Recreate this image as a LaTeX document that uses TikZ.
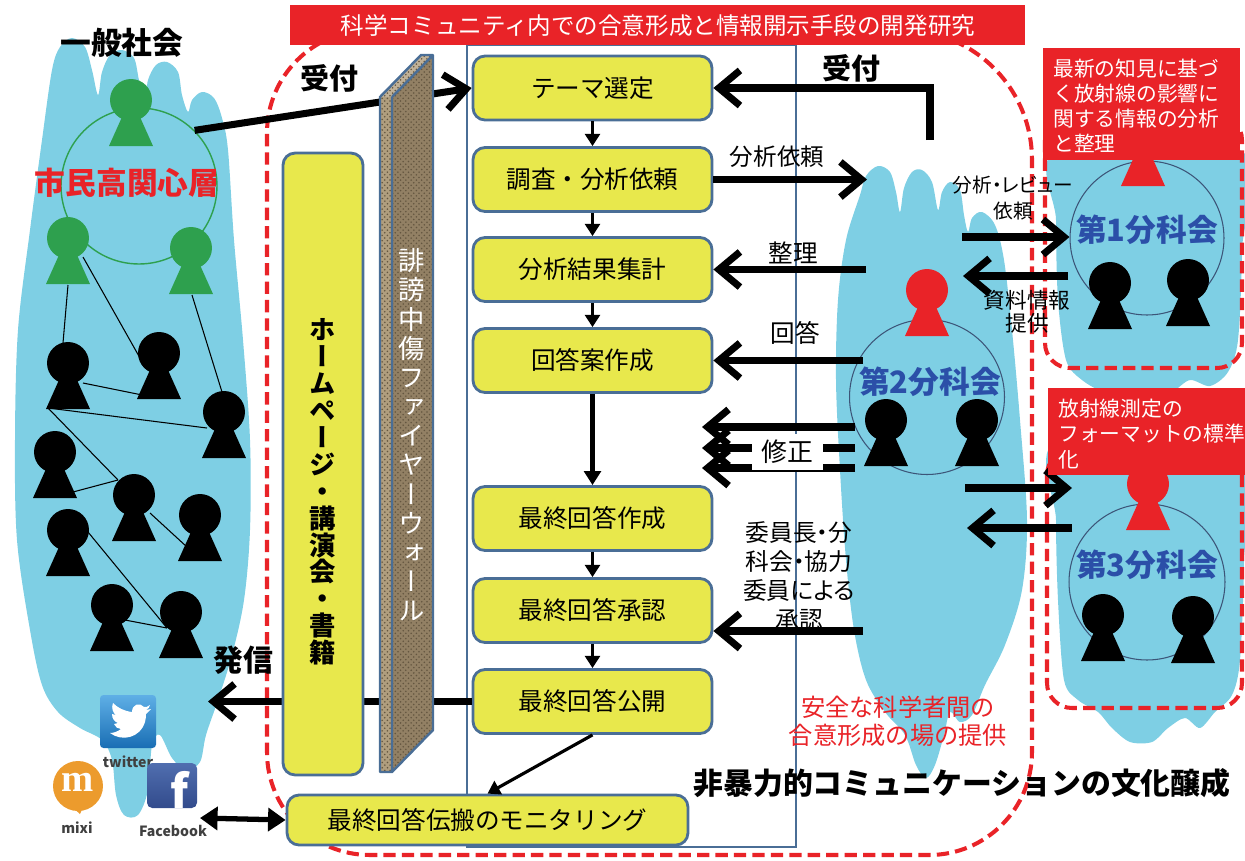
\documentclass[tikz,border=0pt]{standalone}
\usepackage{fontspec}
\setmainfont{Noto Sans CJK JP}
\newfontfamily\vjp[RawFeature=+vert]{Noto Sans CJK JP}
\newfontfamily\pjp[RawFeature=+palt]{Noto Sans CJK JP}
\newfontfamily\mixiserif{Liberation Serif}
\usepackage{xcolor}
\usepackage{tikz}
\usetikzlibrary{arrows.meta}
\usetikzlibrary{patterns}
\usetikzlibrary{calc}

\definecolor{cloudblue}{RGB}{126,207,228}
\definecolor{boxyellow}{RGB}{232,232,76}
\definecolor{edgeblue}{RGB}{74,110,150}
\definecolor{bannerred}{RGB}{233,35,40}
\definecolor{pgreen}{RGB}{46,160,78}
\definecolor{subblue}{RGB}{43,79,168}
\definecolor{wallbrown}{RGB}{146,128,100}
\definecolor{wallfront}{RGB}{176,158,126}
\definecolor{wallgrain}{RGB}{100,86,64}
\definecolor{ringline}{RGB}{60,85,120}
\definecolor{twtop}{RGB}{95,175,230}
\definecolor{twbot}{RGB}{25,110,180}
\definecolor{fbtop}{RGB}{80,110,175}
\definecolor{fbbot}{RGB}{50,75,140}
\definecolor{mixiorange}{RGB}{236,155,45}

\tikzset{
  flowbox/.style={draw=edgeblue,line width=1.6pt,fill=boxyellow,rounded corners=0.24cm,
    minimum width=4.78cm,minimum height=1.28cm,inner sep=0pt,font=\fontsize{14}{16}\selectfont},
  bigarrow/.style={line width=4pt,-{Straight Barb[length=12pt,width=20pt,line width=4pt]}},
  downarrow/.style={line width=1.8pt,-{Triangle[length=7pt,width=8.5pt]}},
  reddash/.style={draw=bannerred,line width=2.3pt,dash pattern=on 7pt off 3.5pt},
  ring/.style={circle,draw=ringline,line width=0.6pt,inner sep=0pt},
  lbl/.style={inner sep=1pt,font=\fontsize{13.4}{15}\selectfont},
  title/.style={inner sep=1pt,font=\bfseries\fontsize{17.5}{20}\selectfont},
  person/.pic={
    \fill (0,0) circle (0.42cm);
    \fill (-9,17) -- (9,17) -- (22,46) -- (-22,46) -- cycle;
  }
}

\begin{document}
\begin{tikzpicture}[x=0.02cm,y=-0.02cm]
\useasboundingbox (0,0) rectangle (1245,860);

\fill[cloudblue] plot[smooth cycle,tension=0.55] coordinates {(52,70) (60,47) (72,38) (85,47) (92,70) (98,95) (102,72) (110,55) (122,50) (134,58) (139,80) (145,100) (148,80) (156,65) (167,62) (178,72) (182,95) (188,112) (192,100) (202,92) (214,98) (222,118) (228,150) (234,240) (243,340) (250,440) (250,530) (244,600) (232,655) (218,700) (206,735) (200,762) (186,770) (172,758) (160,735) (152,745) (148,790) (138,815) (124,815) (116,795) (112,760) (102,740) (80,728) (58,712) (42,685) (30,630) (17,540) (15,440) (18,330) (30,230) (42,140)};
\fill[cloudblue] plot[smooth cycle,tension=0.55] coordinates {(860,195) (866,176) (878,166) (890,172) (896,192) (900,212) (904,188) (912,172) (922,170) (932,182) (938,210) (942,192) (950,182) (960,190) (964,215) (968,232) (972,218) (982,212) (995,225) (1004,260) (1012,330) (1020,420) (1027,520) (1022,590) (1005,645) (985,685) (972,715) (960,722) (950,712) (944,735) (935,765) (926,778) (916,765) (905,735) (885,712) (866,680) (854,630) (846,560) (840,470) (836,380) (838,300) (846,240)};
\fill[cloudblue] plot[smooth cycle,tension=0.5] coordinates {(1058,150) (1240,150) (1242,250) (1238,340) (1228,372) (1210,386) (1190,380) (1172,392) (1150,398) (1128,388) (1105,392) (1082,380) (1066,360) (1058,300) (1056,220)};
\fill[cloudblue] plot[smooth cycle,tension=0.5] coordinates {(1058,440) (1242,440) (1244,560) (1240,660) (1232,695) (1215,712) (1200,728) (1185,718) (1168,728) (1152,742) (1130,742) (1112,728) (1098,712) (1078,700) (1064,680) (1058,600) (1056,520)};

\draw[reddash] (650,30) [rounded corners=2.06cm] -- (267,30) -- (267,855) -- (1032,855) [rounded corners=2.6cm] -- (1032,30) [rounded corners=2.06cm] -- (650,30);
\draw[reddash,rounded corners=0.5cm] (1045,115) rectangle (1242,368);
\draw[reddash,rounded corners=0.5cm] (1047,450) rectangle (1242,708);
\draw[edgeblue,line width=1.3pt] (467,45) rectangle (796,847);

\foreach \n/\px/\py in {g1/131/100,g2/68/238,g3/191/248,k1/68/363,k2/159/353,k3/224/412,k4/55/452,k5/134/495,k6/200/515,k7/68/530,k8/112/605,k9/181/612}{
\coordinate (\n) at (\px,\py);
}
\draw[line width=0.6pt] ($(g2)+(0,47)$) -- ($(k1)+(-5,-20)$);
\draw[line width=0.6pt] ($(g2)+(15,19)$) -- ($(k2)+(-19,5)$);
\draw[line width=0.6pt] ($(g3)+(1,47)$) -- ($(k3)+(-2,-20)$);
\draw[line width=0.6pt] ($(k1)+(15,20)$) -- ($(k2)+(-2,45)$);
\draw[line width=0.6pt] ($(k1)+(-20,45)$) -- ($(k3)+(-17,16)$);
\draw[line width=0.6pt] ($(k1)+(-20,45)$) -- ($(k5)+(-16,-15)$);
\draw[line width=0.6pt] ($(k4)+(18,40)$) -- ($(k5)+(-16,-15)$);
\draw[line width=0.6pt] ($(k5)+(16,18)$) -- ($(k6)+(-13,32)$);
\draw[line width=0.6pt] ($(k7)+(20,2)$) -- ($(k9)+(-14,16)$);
\draw[line width=0.6pt] ($(k8)+(13,15)$) -- ($(k9)+(-14,16)$);

\node[circle,draw=pgreen,line width=0.8pt,minimum size=3.12cm,inner sep=0pt] (hicircle) at (139,186) {};
\node[ring,minimum size=3.1cm] (sub2) at (927,397) {};
\node[ring,minimum size=3.08cm] (sub1) at (1147,238) {};
\node[ring,minimum size=3.12cm] (sub3) at (1147,582) {};

\foreach \n in {g1,g2,g3}{
\pic[pgreen] at (\n) {person};
}
\foreach \n in {k1,k2,k3,k4,k5,k6,k7,k8,k9}{
\pic[black] at (\n) {person};
}
\pic[bannerred] at (927,290) {person};
\pic[bannerred] at (1143,140) {person};
\pic[bannerred] at (1148,484) {person};
\foreach \px/\py in {886/420,977/420,1110/283,1188/280,1103/615,1193/617}{
\pic[black] at (\px,\py) {person};
}

\pgfmathsetmacro{\X}{592.5}
\node[flowbox] (theme) at (\X,88) {テーマ選定};
\node[flowbox] (chosa) at (\X,179.5) {調査・分析依頼};
\node[flowbox] (kekka) at (\X,269.5) {分析結果集計};
\node[flowbox] (kaitoan) at (\X,360.5) {回答案作成};
\node[flowbox] (saishu) at (\X,518.5) {最終回答作成};
\node[flowbox] (shonin) at (\X,610.5) {最終回答承認};
\node[flowbox] (kokai) at (\X,701.5) {最終回答公開};
\node[flowbox,minimum width=8.02cm,minimum height=1cm] (monitor) at (487.5,820) {最終回答伝搬のモニタリング};

\coordinate (hassinT) at (208,701.5);
\draw[bigarrow] (kokai.west) -- (hassinT);
\draw[bigarrow] (hicircle.45) -- (theme.west);

\node[draw=edgeblue,line width=1.6pt,fill=boxyellow,rounded corners=0.24cm,minimum width=1.6cm,minimum height=12.44cm] (hpbox) at (323,464) {};
\node[align=center,inner sep=0pt,font=\vjp\bfseries\fontsize{15}{15.3}\selectfont] (hptext) at (323,492) {ホ\\ー\\ム\\ペ\\ー\\ジ\\・\\講\\演\\会\\・\\書\\籍};

\fill[wallfront] (380,97) rectangle (392,772);
\fill[wallbrown] (392,97) -- (433,55) -- (433,730) -- (392,772) -- cycle;
\fill[wallfront!80!white] (380,97) -- (421,55) -- (433,55) -- (392,97) -- cycle;
\path[pattern=crosshatch dots,pattern color=wallgrain] (380,97) -- (421,55) -- (433,55) -- (433,730) -- (392,772) -- (380,772) -- cycle;
\draw[edgeblue,line width=1.4pt,line join=round] (380,97) -- (421,55) -- (433,55) -- (433,730) -- (392,772) -- (380,772) -- cycle (392,97) -- (392,772) (392,97) -- (433,55);
\node[align=center,inner sep=0pt,text=white,font=\vjp\fontsize{15}{16.6}\selectfont] (fwtext) at (412,435) {誹\\謗\\中\\傷\\フ\\ァ\\イ\\ヤ\\ー\\ウ\\ォ\\ー\\ル};

\draw[downarrow] (theme) -- (chosa);
\draw[downarrow] (chosa) -- (kekka);
\draw[downarrow] (kekka) -- (kaitoan);
\draw[line width=2.3pt,-{Triangle[length=8pt,width=9.5pt]}] (kaitoan) -- (saishu);
\draw[downarrow] (saishu) -- (shonin);
\draw[downarrow] (shonin) -- (kokai);
\draw[downarrow] (kokai.south) -- (monitor.north);

\coordinate (uke) at (930,140);
\coordinate (bunT) at (867,179.5);
\coordinate (seiS) at (866,269.5);
\coordinate (kaiS) at (863,360.5);
\coordinate (shoS) at (863,631);
\draw[bigarrow] (uke) |- (theme.east);
\draw[bigarrow] (chosa.east) -- (bunT);
\draw[bigarrow] (seiS) -- (kekka.east);
\draw[bigarrow] (kaiS) -- (kaitoan.east);
\draw[bigarrow] (shoS) -- (shoS -| shonin.east);
\foreach \i/\yy in {1/427,2/448,3/468}{
\coordinate (shuS\i) at (855,\yy);
\coordinate (shuT\i) at (702,\yy);
\draw[bigarrow] (shuS\i) -- (shuT\i);
}
\node[fill=white,minimum width=1.42cm,minimum height=0.72cm,inner sep=0pt,font=\fontsize{14.7}{16}\selectfont] (shusei) at (787.5,452) {修正};

\coordinate (r1S) at (962,237);
\coordinate (l1S) at (1068,276);
\coordinate (l1T) at (963,276);
\coordinate (r3S) at (965,488);
\coordinate (r3T) at (1072,488);
\coordinate (l3S) at (1072,528);
\coordinate (l3T) at (967,528);
\draw[bigarrow] (r1S) -- (r1S -| sub1.west);
\draw[bigarrow] (l1S) -- (l1T);
\draw[bigarrow] (r3S) -- (r3T);
\draw[bigarrow] (l3S) -- (l3T);

\node[title] (society) at (122,43) {一般社会};
\node[title,text=bannerred] (concern) at (127,183) {市民高関心層};
\node[title,font=\bfseries\fontsize{16.5}{19}\selectfont] (ukeL) at (329,78) {受付};
\node[title,font=\bfseries\fontsize{16.5}{19}\selectfont] (ukeR) at (851,68) {受付};
\node[title,font=\bfseries\fontsize{17}{19}\selectfont] (hassin) at (243,660) {発信};
\node[lbl] (lbunseki) at (777,157) {分析依頼};
\node[lbl,font=\fontsize{14}{15}\selectfont] (lseiri) at (793,253) {整理};
\node[lbl,font=\fontsize{14}{15}\selectfont] (lkaito) at (795,333) {回答};
\node[lbl,align=center,font=\pjp\fontsize{13.5}{16.4}\selectfont] (lshonin) at (799,576) {委員長・分\\科会・協力\\委員による\\承認};
\node[lbl,align=center,font=\pjp\fontsize{11.2}{15.3}\selectfont] (lreview) at (1013,198) {分析・レビュー\\依頼};
\node[lbl,align=center,font=\fontsize{12.3}{13}\selectfont] (lshiryo) at (1027,312) {資料情報\\提供};
\node[title,text=subblue] (t1) at (1147,230) {第1分科会};
\node[title,text=subblue] (t2) at (930,382) {第2分科会};
\node[title,text=subblue] (t3) at (1147,565) {第3分科会};
\node[lbl,align=center,text=bannerred,font=\fontsize{13.8}{15.9}\selectfont] (lsafe) at (898,721) {安全な科学者間の\\合意形成の場の提供};
\node[title,font=\bfseries\fontsize{17}{19}\selectfont] (culture) at (962,783) {非暴力的コミュニケーションの文化醸成};

\fill[bannerred] (1043,48) rectangle (1240,160);
\node[anchor=west,align=left,inner sep=0pt,text=white,font=\fontsize{11.8}{14.2}\selectfont] (lab1) at (1053,105.5) {最新の知見に基づ\\く放射線の影響に\\関する情報の分析\\と整理};
\fill[bannerred] (1048,388) rectangle (1245,475);
\node[anchor=west,align=left,inner sep=0pt,text=white,font=\fontsize{11.8}{14.7}\selectfont] (lab2) at (1058,434) {放射線測定の\\フォーマットの標準\\化};

\fill[bannerred] (290,5) rectangle (1025,45);
\node[inner sep=0pt,text=white,font=\fontsize{13.4}{15}\selectfont] (banner) at (658,26) {科学コミュニティ内での合意形成と情報開示手段の開発研究};

\shade[top color=twtop,bottom color=twbot,rounded corners=2pt] (100,695) rectangle (156,748);
\fill[white] (110,733) .. controls (122,742) and (140,738) .. (145,722) .. controls (146,717) .. (146,714) .. controls (149,712) .. (151,709) .. controls (148,710) .. (146,710) .. controls (149,708) .. (150,705) .. controls (147,707) .. (144,707) .. controls (140,702) and (132,704) .. (132,712) .. controls (124,711) and (118,708) .. (113,703) .. controls (111,708) and (113,713) .. (116,715) .. controls (114,715) .. (112,714) .. controls (112,719) and (115,722) .. (118,723) .. controls (116,724) .. (114,724) .. controls (115,727) and (118,729) .. (121,729) .. controls (117,732) and (113,733) .. (110,733) -- cycle;
\node[inner sep=0pt,text=black!75,font=\bfseries\fontsize{8}{9}\selectfont] (ltwitter) at (128,762) {twitter};
\fill[mixiorange] (78,786) circle (0.5cm);
\fill[mixiorange] (70,805) -- (80,814) -- (84,805) -- cycle;
\node[inner sep=0pt,text=white,font=\mixiserif\bfseries\fontsize{22}{22}\selectfont] (mglyph) at (78,782) {m};
\node[inner sep=0pt,text=black!75,font=\bfseries\fontsize{8}{9}\selectfont] (lmixi) at (77,828) {mixi};
\shade[top color=fbtop,bottom color=fbbot,rounded corners=3pt] (147,763) rectangle (197,808);
\node[anchor=base,inner sep=0pt,text=white,font=\bfseries\fontsize{26}{26}\selectfont] (fglyph) at (180,808) {f};
\node[inner sep=0pt,text=black!75,font=\bfseries\fontsize{8}{9}\selectfont] (lfacebook) at (173,831) {Facebook};
\coordinate (fbR) at (200,818);
\draw[line width=3pt,{Triangle[length=10pt,width=13pt]}-{Triangle[length=10pt,width=13pt]}] (fbR) -- (monitor.west);

\end{tikzpicture}
\end{document}
